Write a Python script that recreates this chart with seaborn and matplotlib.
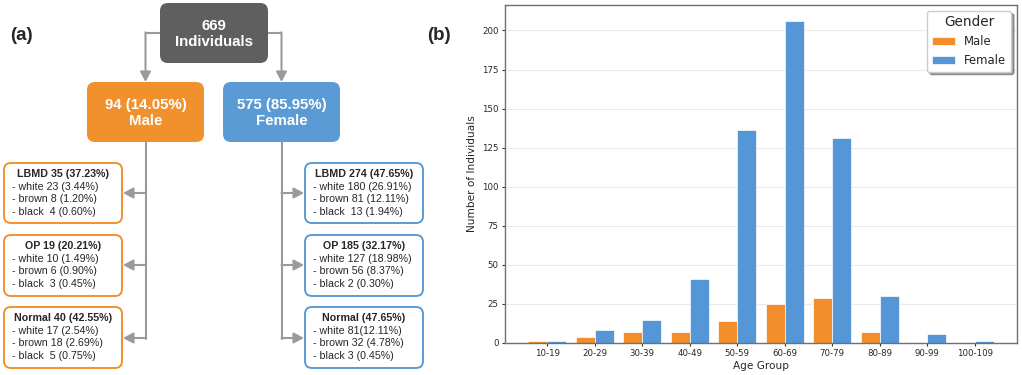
"""
Gender / age breakdown of the cohort: flow diagram (a) + grouped bar chart (b)
"""

import pandas as pd
import matplotlib
matplotlib.use("Agg")
import matplotlib.pyplot as plt
from matplotlib.patches import FancyBboxPatch
import seaborn as sns

# ---- data -------------------------------------------------------------
age_groups = ['10-19', '20-29', '30-39', '40-49', '50-59',
              '60-69', '70-79', '80-89', '90-99', '100-109']
male_counts = [1, 4, 7, 7, 14, 25, 29, 7, 0, 0]
female_counts = [1, 8, 15, 41, 136, 206, 131, 30, 6, 1]
genders = ['Male', 'Female']

total_text = '669\nIndividuals'
gender_texts = ['94 (14.05%)\nMale', '575 (85.95%)\nFemale']

male_titles = ['LBMD 35 (37.23%)', 'OP 19 (20.21%)', 'Normal 40 (42.55%)']
male_lines = [['- white 23 (3.44%)', '- brown 8 (1.20%)', '- black  4 (0.60%)'],
              ['- white 10 (1.49%)', '- brown 6 (0.90%)', '- black  3 (0.45%)'],
              ['- white 17 (2.54%)', '- brown 18 (2.69%)', '- black  5 (0.75%)']]
female_titles = ['LBMD 274 (47.65%)', 'OP 185 (32.17%)', 'Normal (47.65%)']
female_lines = [['- white 180 (26.91%)', '- brown 81 (12.11%)', '- black  13 (1.94%)'],
                ['- white 127 (18.98%)', '- brown 56 (8.37%)', '- black 2 (0.30%)'],
                ['- white 81(12.11%)', '- brown 32 (4.78%)', '- black 3 (0.45%)']]

ORANGE = '#F0912E'
BLUE = '#5B9BD5'
DARK = '#5F5F5F'
LINE = '#9A9A9A'
FONT = ['Liberation Sans', 'DejaVu Sans']

sns.set_style("ticks")

fig = plt.figure(figsize=(10.22, 3.75), dpi=100)

# ---- (a) flow diagram, drawn in pixel coordinates ----------------------
ax_a = fig.add_axes([0, 0, 1, 1])
ax_a.set_xlim(0, 1022)
ax_a.set_ylim(375, 0)
ax_a.axis('off')


def box(x0, y0, x1, y1, face, edge, lw=0, rad=8):
    p = FancyBboxPatch((x0 + rad, y0 + rad), (x1 - x0) - 2 * rad, (y1 - y0) - 2 * rad,
                       boxstyle=f"round,pad={rad}", fc=face, ec=edge, lw=lw,
                       mutation_aspect=1)
    ax_a.add_patch(p)


def arrow(x0, y0, x1, y1):
    ax_a.annotate('', xy=(x1, y1), xytext=(x0, y0),
                  arrowprops=dict(arrowstyle='-|>,head_length=0.6,head_width=0.32',
                                  color=LINE, lw=1.5, shrinkA=0, shrinkB=0))


# top box
box(160, 3, 268, 63, DARK, DARK)
ax_a.text(214, 34, total_text, ha='center', va='center', color='white',
          fontsize=10.8, fontweight='bold', family=FONT, linespacing=1.2)

# gender boxes
gx = [145.5, 281.5]
box(87, 82, 204, 142, ORANGE, ORANGE)
box(223, 82, 340, 142, BLUE, BLUE)
for cx, t in zip(gx, gender_texts):
    ax_a.text(cx, 113, t, ha='center', va='center', color='white',
              fontsize=10.8, fontweight='bold', family=FONT, linespacing=1.2)

# connectors from the top box
ax_a.plot([160, gx[0]], [33, 33], color=LINE, lw=1.5, solid_capstyle='butt')
ax_a.plot([268, gx[1]], [33, 33], color=LINE, lw=1.5, solid_capstyle='butt')
arrow(gx[0], 32.3, gx[0], 82)
arrow(gx[1], 32.3, gx[1], 82)

# sub boxes
row_y = [(163, 223), (235, 296), (307, 368)]
branch_y = [193, 265, 338]
ax_a.plot([gx[0], gx[0]], [142, 338.7], color=LINE, lw=1.5)
ax_a.plot([gx[1], gx[1]], [142, 338.7], color=LINE, lw=1.5)

for side, (titles, lines, color, bx0, bx1) in enumerate([
        (male_titles, male_lines, ORANGE, 4, 122),
        (female_titles, female_lines, BLUE, 305, 423)]):
    for (y0, y1), by, title, body in zip(row_y, branch_y, titles, lines):
        box(bx0, y0, bx1, y1, 'white', color, lw=1.4, rad=7)
        ax_a.text((bx0 + bx1) / 2, y0 + 11, title, ha='center', va='center',
                  fontsize=7.7, fontweight='bold', family=FONT)
        for k, line in enumerate(body):
            ax_a.text(bx0 + 8, y0 + 23.7 + 12.8 * k, line, ha='left',
                      va='center', fontsize=7.7, family=FONT)
        if side == 0:
            arrow(gx[0], by, bx1 + 1, by)
        else:
            arrow(gx[1], by, bx0 - 1, by)

ax_a.text(10, 35, '(a)', ha='left', va='center', fontsize=13.5,
          fontweight='bold', family=FONT)
ax_a.text(427, 35, '(b)', ha='left', va='center', fontsize=13.5,
          fontweight='bold', family=FONT)

# ---- (b) grouped bar chart --------------------------------------------
df = pd.DataFrame({
    'Age Group': age_groups * 2,
    'Count': male_counts + female_counts,
    'Gender': [genders[0]] * len(age_groups) + [genders[1]] * len(age_groups),
})

ax_b = fig.add_axes([505 / 1022, 32 / 375, 512 / 1022, 338 / 375])
sns.barplot(data=df, x='Age Group', y='Count', hue='Gender', hue_order=genders,
            palette=['#F28E2B', '#5596D6'], saturation=1, errorbar=None,
            edgecolor='white', linewidth=0.5, ax=ax_b)
ax_b.set_xlim(-0.89, 9.89)
ax_b.set_ylim(0, 216.3)
ax_b.set_yticks(range(0, 201, 25))
ax_b.set_xlabel('Age Group', fontsize=7.6, labelpad=2)
ax_b.set_ylabel('Number of Individuals', fontsize=7.6, labelpad=4)
ax_b.tick_params(axis='both', labelsize=6.2, length=2.5, width=0.8, pad=2,
                 color='#333333')
ax_b.yaxis.grid(True, color='#EAEAEA', lw=0.8)
ax_b.set_axisbelow(True)
for s in ax_b.spines.values():
    s.set_color('#707070')
    s.set_linewidth(1.0)

handles, labels = ax_b.get_legend_handles_labels()
ax_b.legend(handles, labels, title='Gender', loc='upper right', shadow=True,
            fontsize=8.4, title_fontsize=9.8, frameon=True, fancybox=True,
            edgecolor='#CCCCCC', framealpha=1)

fig.savefig('out.png', dpi=100)
